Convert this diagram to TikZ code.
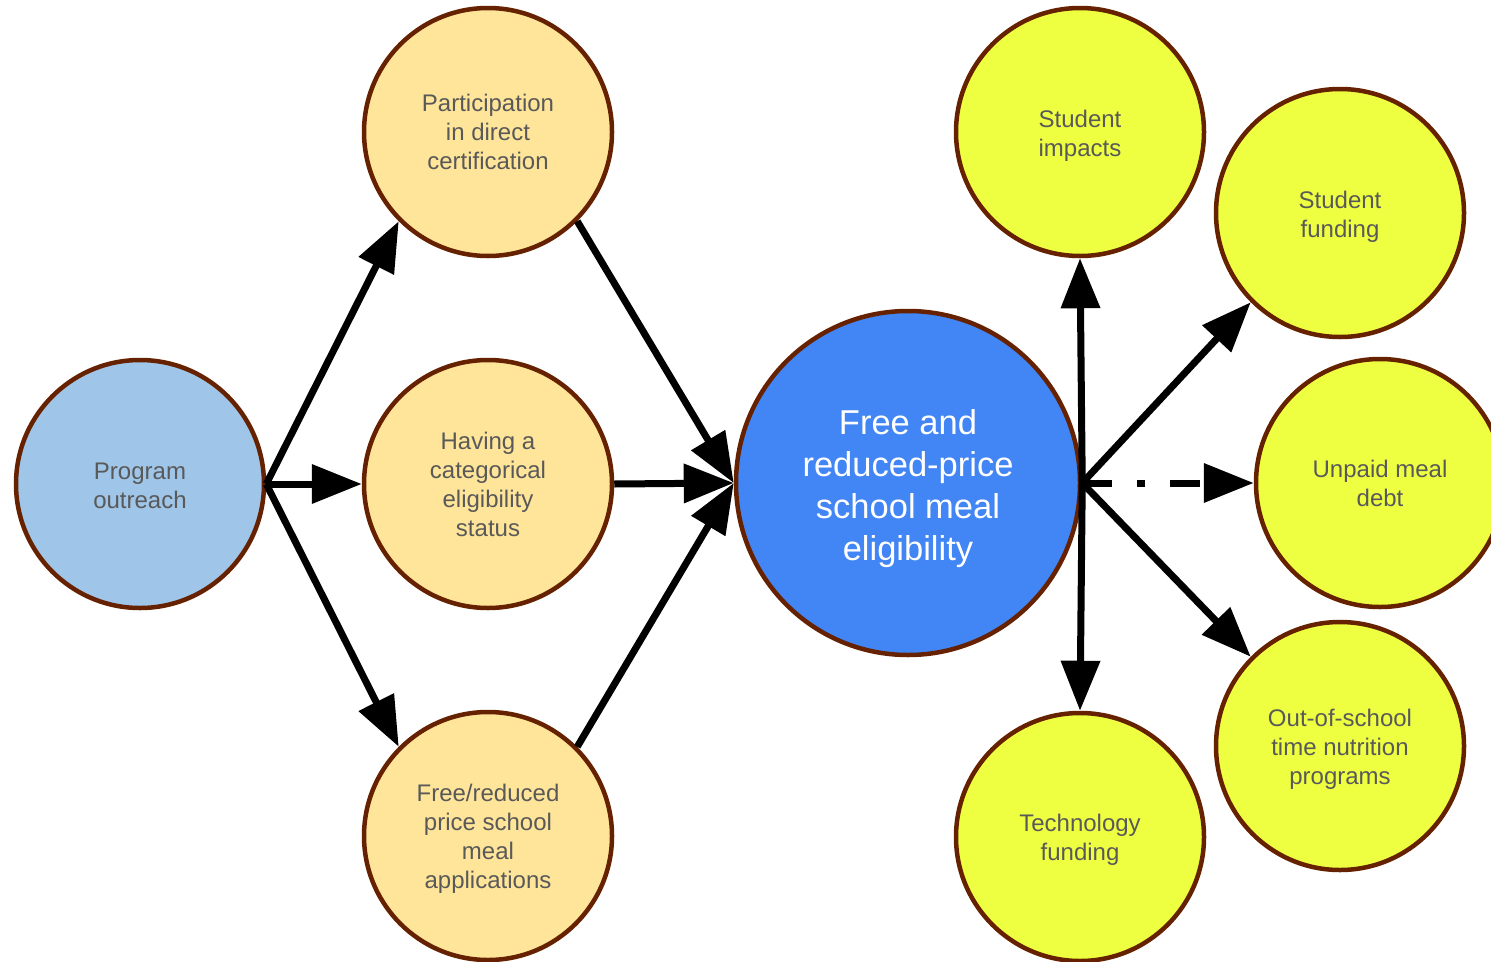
\documentclass[tikz,border=0pt]{standalone}
\usepackage{fontspec}
\setmainfont{Liberation Sans}
\usepackage{xcolor}
\usetikzlibrary{arrows.meta}
\definecolor{rimbrown}{HTML}{662200}
\definecolor{outreachblue}{HTML}{9FC5E8}
\definecolor{pathorange}{HTML}{FFE599}
\definecolor{eligblue}{HTML}{4285F4}
\definecolor{impactyellow}{HTML}{EEFF41}
\definecolor{labelgray}{HTML}{595959}

\begin{document}
\begin{tikzpicture}[x=1pt,y=-1pt,>={Triangle[length=50pt,width=38pt]},
                        main node/.style={circle,draw=rimbrown,line width=4.5pt,inner sep=0pt,minimum size=248pt,
                        align=center,text=labelgray,font=\fontsize{24pt}{29pt}\selectfont}]
      \useasboundingbox (0,0) rectangle (1491,961);
      \node[main node,fill=outreachblue] (PO) at (140,484) {\rule{0pt}{21pt}Program\\outreach};
      \node[main node,fill=pathorange] (PDC) at (488,132) {Participation\\in direct\\certification};
      \node[main node,fill=pathorange] (CES) at (488,484) {Having a\\categorical\\eligibility\\status};
      \node[main node,fill=pathorange] (APP) at (488,836) {\rule{0pt}{23pt}Free/reduced\\price school\\meal\\applications};
      \node[main node,fill=eligblue,minimum size=344pt,text=white,font=\fontsize{34.5pt}{42pt}\selectfont] (FRP) at (908,483)
           {\rule{0pt}{37pt}Free and\\reduced-price\\school meal\\eligibility};
      \node[main node,fill=impactyellow] (SI) at (1080,132) {\rule{0pt}{24pt}Student\\impacts};
      \node[main node,fill=impactyellow] (SF) at (1340,213) {\rule{0pt}{24pt}Student\\funding};
      \node[main node,fill=impactyellow] (UMD) at (1380,483) {Unpaid meal\\debt};
      \node[main node,fill=impactyellow] (OST) at (1340,746) {\rule{0pt}{23pt}Out-of-school\\time nutrition\\programs};
      \node[main node,fill=impactyellow] (TF) at (1080,837) {\rule{0pt}{23pt}Technology\\funding};

\begin{scope}[line width=7pt]
      \path[->] (PO.east) edge (PDC.south west);
      \path[->] (PO.east) edge (CES.west);
      \path[->] (PO.east) edge (APP.north west);
    %
      \path[->] (PDC.south east) edge (FRP.west);
      \path[->] (CES.east) edge (FRP.west);
      \path[->] (APP.north east) edge (FRP.west);
    %
      \path[->] (FRP.east) edge (SI.south);
      \path[->] (FRP.east) edge (SF.south west);
      \path[->,dash pattern=on 30pt off 25pt on 8pt off 25pt] (FRP.east) edge (UMD.west);
      \path[->] (FRP.east) edge (OST.north west);
      \path[->] (FRP.east) edge (TF.north);
    \end{scope}
    \end{tikzpicture}
\end{document}
